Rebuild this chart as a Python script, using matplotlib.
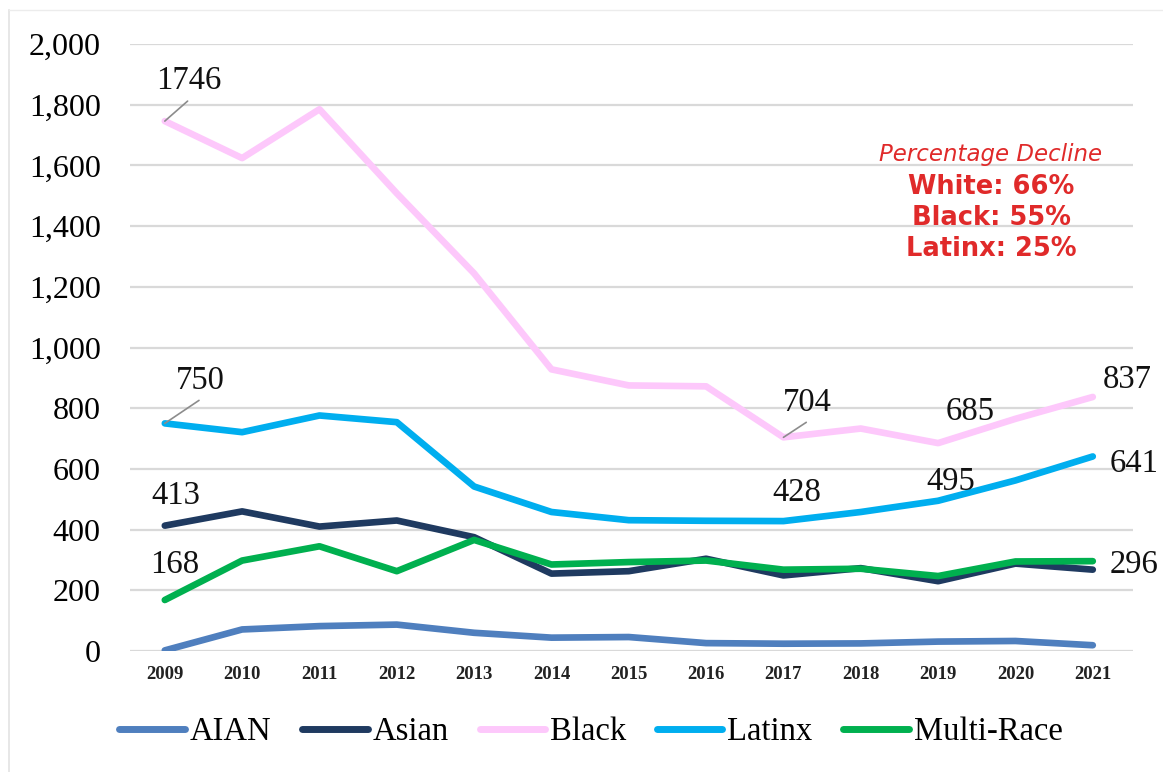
import matplotlib.pyplot as plt
from matplotlib.lines import Line2D

years = list(range(2009, 2022))
aian = [2, 71, 82, 87, 60, 44, 46, 26, 24, 25, 31, 33, 19]
asian = [413, 460, 410, 430, 375, 255, 263, 304, 249, 273, 230, 288, 268]
black = [1746, 1624, 1785, 1508, 1244, 928, 875, 872, 704, 733, 685, 765, 837]
latinx = [750, 721, 776, 754, 542, 458, 431, 429, 428, 458, 495, 562, 641]
multi = [168, 298, 345, 263, 366, 285, 293, 298, 268, 271, 247, 295, 296]

series = [("AIAN", aian, "#4f7fbe"),
          ("Asian", asian, "#1f3a60"),
          ("Black", black, "#fdc8fb"),
          ("Latinx", latinx, "#00aeef"),
          ("Multi-Race", multi, "#00b04f")]

serif = "Liberation Serif"

fig = plt.figure(figsize=(11.63, 7.72), dpi=100)
ax = fig.add_axes([130 / 1163, 121 / 772, 1003 / 1163, 607 / 772])

for name, vals, col in series:
    ax.plot(years, vals, color=col, lw=4.8, solid_capstyle="round",
            solid_joinstyle="round", label=name)

ax.set_xlim(2008.55, 2021.52)
ax.set_ylim(0, 2000)
ax.set_yticks(range(0, 2001, 200))
ax.set_yticklabels([f"{v:,}" for v in range(0, 2001, 200)],
                   fontsize=23, family=serif)
ax.set_xticks(years)
ax.set_xticklabels([str(y) for y in years], fontsize=13.5, family=serif,
                   fontweight="bold", color="#222222")
ax.tick_params(axis="both", length=0)
ax.tick_params(axis="y", pad=21)
ax.tick_params(axis="x", pad=11)
ax.grid(axis="y", color="#d9d9d9", lw=1.6)
ax.set_axisbelow(True)
for s in ax.spines.values():
    s.set_visible(False)

# data labels: (series, year index, offset px, leader line)
labels = [(black, 0, (24, 40), True),
          (latinx, 0, (36, 43), True),
          (asian, 0, (11, 30), False),
          (multi, 0, (10, 35), False),
          (black, 8, (24, 35), True),
          (black, 10, (32, 31), False),
          (latinx, 8, (13, 28), False),
          (latinx, 10, (13, 19), False),
          (black, 12, (34, 17), False),
          (latinx, 12, (41, -7), False),
          (multi, 12, (41, -4), False)]
for vals, i, off, leader in labels:
    ax.annotate(str(vals[i]), (years[i], vals[i]), xytext=off,
                textcoords="offset pixels", ha="center", va="center",
                fontsize=23.5, family=serif, color="#111111")
    if leader:
        ax.annotate("", (years[i], vals[i]),
                    xytext=(off[0] * 0.95, off[1] - 20),
                    textcoords="offset pixels",
                    arrowprops=dict(arrowstyle="-", color="#8c8c8c", lw=1.2,
                                    shrinkA=0, shrinkB=0))

red = "#e02a2a"
fig.text(991 / 1163, 1 - 155 / 772, "Percentage Decline", ha="center",
         va="center", fontsize=16.5, style="italic", color=red,
         family="DejaVu Sans")
for k, t in enumerate(["White: 66%", "Black: 55%", "Latinx: 25%"]):
    fig.text(991 / 1163, 1 - (187 + 31 * k) / 772, t, ha="center",
             va="center", fontsize=18.5, fontweight="bold", color=red,
             family="DejaVu Sans")

handles = [Line2D([0], [0], color=c, lw=5, solid_capstyle="round")
           for _, _, c in series]
fig.legend(handles, [n for n, _, _ in series], loc="center",
           bbox_to_anchor=(591 / 1163, 1 - 732 / 772), ncol=5, frameon=False,
           prop={"family": serif, "size": 23.5}, handlelength=2.0,
           handletextpad=0.15, columnspacing=0.95)

# light frame
fig.add_artist(Line2D([9 / 1163, 9 / 1163], [0, 1 - 10 / 772],
                      color="#e3e3e3", lw=1.2))
fig.add_artist(Line2D([9 / 1163, 1], [1 - 10 / 772, 1 - 10 / 772],
                      color="#ececec", lw=1.0))

fig.savefig("out.png", dpi=100, facecolor="white")
